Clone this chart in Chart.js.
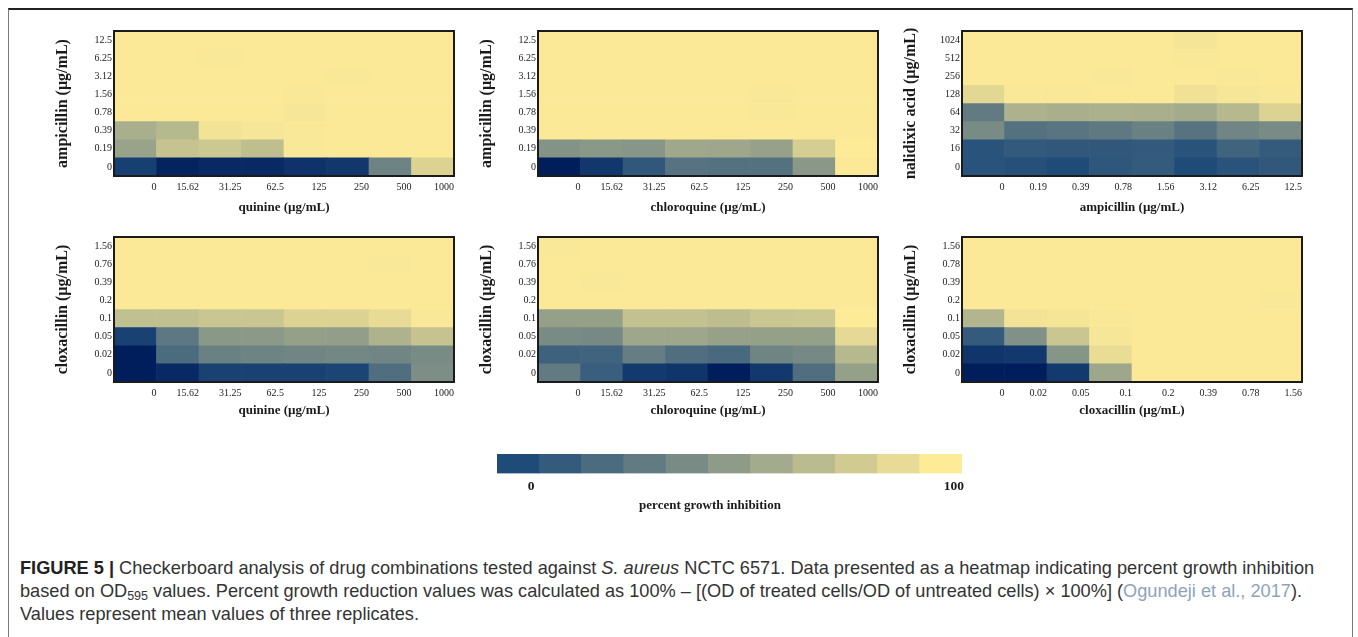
<!DOCTYPE html>
<html>
<head>
<meta charset="utf-8">
<script src="https://cdn.jsdelivr.net/npm/chart.js@4.4.0/dist/chart.umd.min.js"></script>
<style>
  body { margin: 0; background: #fff; width: 1358px; height: 637px; overflow: hidden; position: relative; }
  .frame { position: absolute; left: 8px; top: 8px; width: 1343px; height: 700px; border: 1px solid #777; border-top: 2px solid #222; }
  .panel { position: absolute; }
  .caption { position: absolute; left: 20px; top: 557px; font-family: 'Liberation Sans', Arial, sans-serif; font-size: 18.2px; line-height: 23px; color: #333; white-space: nowrap; }
  .caption b { color: #222; }
  .caption sub { font-size: 12.5px; line-height: 0; vertical-align: -3px; }
  .caption .ref { color: #8ea3ba; }
</style>
</head>
<body>
<div class="frame"></div>
<div class="panel" style="left:45px;top:23px"><canvas id="p1" width="419" height="198"></canvas></div>
<div class="panel" style="left:469px;top:23px"><canvas id="p2" width="419" height="198"></canvas></div>
<div class="panel" style="left:893px;top:23px"><canvas id="p3" width="419" height="198"></canvas></div>
<div class="panel" style="left:45px;top:229px"><canvas id="p4" width="419" height="198"></canvas></div>
<div class="panel" style="left:469px;top:229px"><canvas id="p5" width="419" height="198"></canvas></div>
<div class="panel" style="left:893px;top:229px"><canvas id="p6" width="419" height="198"></canvas></div>
<div class="panel" style="left:432px;top:448px"><canvas id="legend" width="556" height="70"></canvas></div>
<div class="caption">
<b>FIGURE 5 |</b> Checkerboard analysis of drug combinations tested against <i>S. aureus</i> NCTC 6571. Data presented as a heatmap indicating percent growth inhibition<br>
based on OD<sub>595</sub> values. Percent growth reduction values was calculated as 100% – [(OD of treated cells/OD of untreated cells) × 100%] (<span class="ref">Ogundeji et al., 2017</span>).<br>
Values represent mean values of three replicates.
</div>
<script>
// dose labels (x: left to right, y: top to bottom as printed)
const antimalarialDoses = ['0', '15.62', '31.25', '62.5', '125', '250', '500', '1000'];
const ampicillinRows = ['12.5', '6.25', '3.12', '1.56', '0.78', '0.39', '0.19', '0'];
const ampicillinCols = ['0', '0.19', '0.39', '0.78', '1.56', '3.12', '6.25', '12.5'];
const nalidixicRows = ['1024', '512', '256', '128', '64', '32', '16', '0'];
const cloxacillinRowsA = ['1.56', '0.76', '0.39', '0.2', '0.1', '0.05', '0.02', '0'];
const cloxacillinRowsB = ['1.56', '0.78', '0.39', '0.2', '0.1', '0.05', '0.02', '0'];
const cloxacillinCols = ['0', '0.02', '0.05', '0.1', '0.2', '0.39', '0.78', '1.56'];

// percent growth inhibition, rows top to bottom
const quinineAmp = [
    [99, 99, 99, 99, 99, 99, 99, 99],
    [99, 99, 98, 99, 99, 99, 99, 99],
    [99, 99, 99, 99, 99, 98, 99, 99],
    [99, 99, 99, 99, 98, 99, 99, 99],
    [99, 99, 99, 99, 97, 99, 99, 99],
    [62, 68, 95, 97, 98, 99, 99, 99],
    [55, 75, 78, 72, 98, 99, 99, 99],
    [-10, -35, -30, -30, -22, -18, 35, 85]
];
const chloroquineAmp = [
    [99, 99, 99, 99, 99, 99, 99, 99],
    [99, 99, 99, 99, 99, 99, 99, 99],
    [99, 99, 99, 99, 99, 99, 99, 99],
    [99, 99, 99, 99, 99, 98, 99, 99],
    [99, 99, 99, 99, 99, 98, 99, 99],
    [99, 99, 99, 99, 99, 99, 99, 99],
    [45, 48, 47, 58, 57, 54, 82, 100],
    [-40, -18, 8, 25, 24, 24, 48, 99]
];
const ampNalidixic = [
    [99, 99, 99, 99, 99, 96, 99, 99],
    [99, 99, 99, 99, 99, 98, 99, 99],
    [99, 99, 99, 98, 99, 99, 98, 99],
    [88, 98, 98, 99, 99, 94, 97, 98],
    [30, 64, 62, 63, 62, 60, 68, 85],
    [40, 24, 26, 29, 34, 25, 37, 40],
    [5, 9, 8, 8, 9, 5, 15, 10],
    [5, 3, 0, 7, 10, 0, 5, 8]
];
const quinineClox = [
    [99, 99, 99, 99, 99, 99, 99, 99],
    [99, 99, 99, 99, 99, 99, 98, 99],
    [99, 99, 99, 99, 99, 99, 99, 99],
    [99, 99, 99, 99, 99, 99, 99, 99],
    [73, 73, 77, 77, 85, 85, 90, 98],
    [-8, 28, 48, 49, 53, 52, 65, 75],
    [-40, 20, 34, 35, 37, 38, 37, 40],
    [-40, -30, -8, -8, -8, -5, 22, 42]
];
const chloroquineClox = [
    [98, 99, 99, 99, 99, 99, 99, 99],
    [99, 99, 99, 99, 99, 99, 99, 99],
    [99, 98, 99, 99, 99, 99, 99, 99],
    [99, 99, 99, 99, 99, 99, 99, 99],
    [53, 53, 74, 74, 71, 77, 78, 100],
    [40, 39, 57, 57, 54, 53, 53, 89],
    [14, 15, 32, 22, 19, 36, 39, 68],
    [30, 12, -15, -20, -40, -17, 22, 53]
];
const cloxClox = [
    [99, 99, 99, 99, 99, 99, 99, 99],
    [99, 99, 99, 99, 99, 99, 99, 99],
    [99, 99, 99, 99, 99, 99, 99, 99],
    [99, 99, 99, 99, 99, 99, 99, 98],
    [66, 95, 96, 98, 99, 99, 99, 99],
    [10, 44, 77, 97, 99, 99, 99, 99],
    [-20, -17, 46, 91, 99, 99, 99, 99],
    [-40, -40, -15, 57, 99, 99, 99, 99]
];

// colour bar steps
const legendSteps = [0, 10, 20, 30, 40, 50, 60, 70, 80, 90, 100];

const serif = "'Liberation Serif', 'DejaVu Serif', serif";
const ink = '#1a1a1a';

// colour ramp: navy below zero, blue -> yellow from 0 to 100
const stops = [[-40, [0, 30, 92]], [0, [31, 75, 121]], [100, [253, 235, 152]]];
function shade(v) {
    v = Math.max(-40, Math.min(100, v));
    let i = 0;
    while (i < stops.length - 2 && v > stops[i + 1][0]) i++;
    const [a, ca] = stops[i], [b, cb] = stops[i + 1];
    const t = (v - a) / (b - a);
    const c = ca.map((x, k) => Math.round(x + (cb[k] - x) * t));
    return `rgb(${c[0]},${c[1]},${c[2]})`;
}

const boxFrame = {
    id: 'boxFrame',
    afterDatasetsDraw(chart) {
        const { ctx, chartArea: a } = chart;
        ctx.save();
        ctx.strokeStyle = '#1b1b1b';
        ctx.lineWidth = 2;
        ctx.strokeRect(a.left, a.top, a.right - a.left, a.bottom - a.top);
        ctx.restore();
    }
};

function heatmap(id, xLabels, yLabels, values, xTitle, yTitle, titlePad) {
    const rows = values.slice().reverse();
    const yTicks = yLabels.slice().reverse();
    const datasets = rows.map(row => ({
        data: row.map((v, c) => ({ x: c + 0.5, y: 1 })),
        backgroundColor: row.map(shade),
        borderWidth: 0,
        categoryPercentage: 1,
        barPercentage: 1
    }));
    new Chart(document.getElementById(id), {
        type: 'bar',
        data: { datasets },
        plugins: [boxFrame],
        options: {
            responsive: false,
            animation: false,
            layout: { padding: { top: 6, right: 10 } },
            plugins: { legend: { display: false }, tooltip: { enabled: false } },
            scales: {
                x: {
                    type: 'linear', min: 0, max: 8, offset: false, stacked: true,
                    grid: { display: false, drawTicks: false },
                    border: { display: false },
                    afterBuildTicks: s => { s.ticks = xLabels.map((_, i) => ({ value: i + 1 })); },
                    afterFit: s => { s.height = 45; },
                    ticks: {
                        align: 'end', padding: 5, autoSkip: false, maxRotation: 0,
                        color: ink, font: { family: serif, size: 10 },
                        callback: (v, i) => xLabels[i]
                    },
                    title: {
                        display: true, text: xTitle, color: ink,
                        font: { family: serif, size: 13, weight: 'bold' },
                        padding: { top: 0, bottom: titlePad }
                    }
                },
                y: {
                    type: 'linear', min: 0, max: 8, stacked: true,
                    grid: { display: false, drawTicks: false },
                    border: { display: false },
                    afterBuildTicks: s => { s.ticks = yTicks.map((_, i) => ({ value: i + 0.5 })); },
                    afterFit: s => { s.width = 69; },
                    ticks: {
                        padding: 2, autoSkip: false,
                        color: ink, font: { family: serif, size: 10 },
                        callback: (v, i) => yTicks[i]
                    },
                    title: {
                        display: true, text: yTitle, color: ink,
                        font: { family: serif, size: 16, weight: 'bold' },
                        padding: { top: 8, bottom: 0 }
                    }
                }
            }
        }
    });
}

heatmap('p1', antimalarialDoses, ampicillinRows, quinineAmp, 'quinine (µg/mL)', 'ampicillin (µg/mL)', 6);
heatmap('p2', antimalarialDoses, ampicillinRows, chloroquineAmp, 'chloroquine (µg/mL)', 'ampicillin (µg/mL)', 6);
heatmap('p3', ampicillinCols, nalidixicRows, ampNalidixic, 'ampicillin (µg/mL)', 'nalidixic acid (µg/mL)', 6);
heatmap('p4', antimalarialDoses, cloxacillinRowsA, quinineClox, 'quinine (µg/mL)', 'cloxacillin (µg/mL)', 9);
heatmap('p5', antimalarialDoses, cloxacillinRowsA, chloroquineClox, 'chloroquine (µg/mL)', 'cloxacillin (µg/mL)', 9);
heatmap('p6', cloxacillinCols, cloxacillinRowsB, cloxClox, 'cloxacillin (µg/mL)', 'cloxacillin (µg/mL)', 9);

// colour bar
new Chart(document.getElementById('legend'), {
    type: 'bar',
    data: {
        labels: legendSteps.map(String),
        datasets: [{
            data: legendSteps.map(() => 1),
            backgroundColor: legendSteps.map(shade),
            borderWidth: 0,
            categoryPercentage: 1,
            barPercentage: 1
        }]
    },
    options: {
        responsive: false,
        animation: false,
        layout: { padding: { top: 6, bottom: 5 } },
        plugins: {
            legend: { display: false },
            tooltip: { enabled: false },
            title: {
                display: true, position: 'bottom', text: 'percent growth inhibition', color: ink,
                font: { family: serif, size: 13, weight: 'bold' },
                padding: 0
            }
        },
        scales: {
            x: {
                grid: { display: false, drawTicks: false },
                border: { display: false },
                afterFit: s => { s.height = 24; },
                ticks: {
                    padding: 5, labelOffset: 13, autoSkip: false, maxRotation: 0,
                    color: ink, font: { family: serif, size: 13.5, weight: 'bold' },
                    callback: (v, i) => (i === 0 || i === legendSteps.length - 1) ? legendSteps[i] : ''
                }
            },
            y: {
                min: 0, max: 1,
                grid: { display: false, drawTicks: false },
                border: { display: false },
                ticks: { display: false },
                afterFit: s => { s.width = 65; }
            },
            y2: {
                position: 'right', min: 0, max: 1,
                grid: { display: false, drawTicks: false },
                border: { display: false },
                ticks: { display: false },
                afterFit: s => { s.width = 26; }
            }
        }
    }
});
</script>
</body>
</html>
